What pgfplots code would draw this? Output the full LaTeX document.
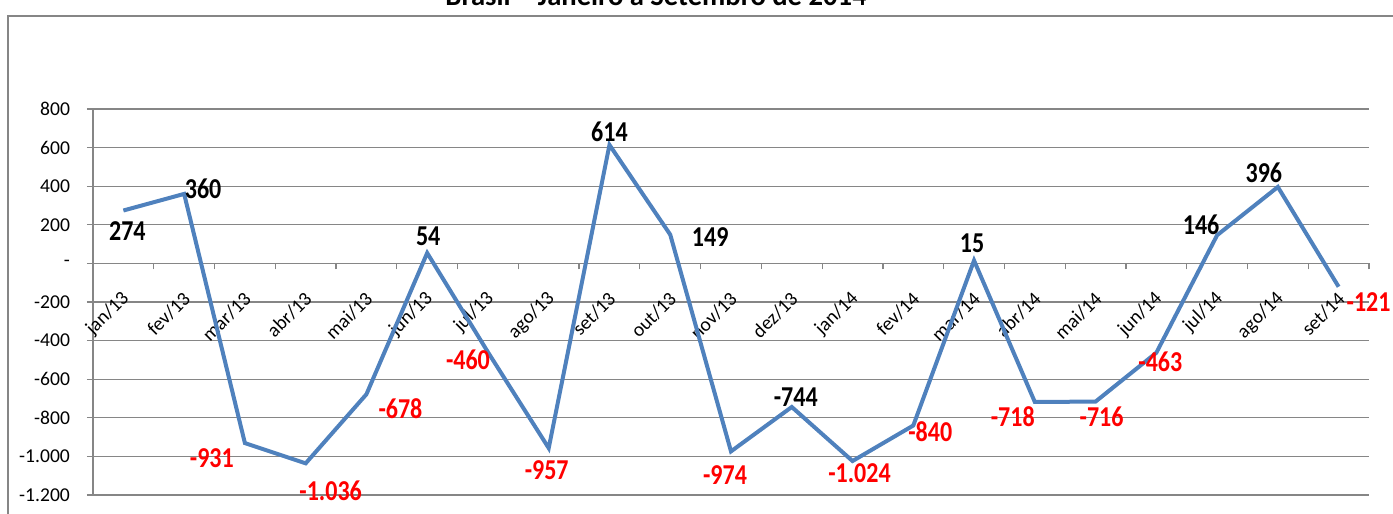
\documentclass[border=0pt]{standalone}
\usepackage{fontspec}
\setmainfont{Carlito}
\usepackage{pgfplots}
\pgfplotsset{compat=1.18}
\usepackage{pgfplotstable}

\definecolor{linecol}{RGB}{79,129,189}
\definecolor{gridcol}{RGB}{134,134,134}
\newcommand\tickfont{\fontsize{9.8}{11}\selectfont}
\newcommand\labfont{\bfseries\fontsize{12}{14}\selectfont}

\pgfplotstableread{
x y
0 274
1 360
2 -931
3 -1036
4 -678
5 54
6 -460
7 -957
8 614
9 149
10 -974
11 -744
12 -1024
13 -840
14 15
15 -718
16 -716
17 -463
18 146
19 396
20 -121
}\maindata

\pgfplotstableread{
x y lab dx dy
0 274 274 2 -10.25
1 360 360 9.5 2.5
5 54 54 0.5 8.5
8 614 614 0 6.5
9 149 149 20 -1
11 -744 -744 2 5
14 15 15 -1 8.5
18 146 146 -8 5
19 396 396 -7 7
}\posdata

\pgfplotstableread{
x y lab dx dy
2 -931 -931 -16.5 -7.5
3 -1036 -1.036 12.5 -13.5
4 -678 -678 17 -7
6 -460 -460 -10 -4
7 -957 -957 -1 -11
10 -974 -974 -3 -12
12 -1024 -1.024 3.5 -6
13 -840 -840 8.5 -3.25
15 -718 -718 -11 -7.5
16 -716 -716 3 -7.5
17 -463 -463 2 -4.5
20 -121 -121 15 -7.5
}\negdata

\begin{document}
\begin{tikzpicture}
\useasboundingbox (0,0) rectangle (696.5pt,257pt);
\clip (0,0) rectangle (696.5pt,257pt);
\draw[gridcol, line width=1pt] (4pt,-20pt) rectangle (720pt,249pt);
\node[anchor=base, font=\bfseries\fontsize{14.3}{17}\selectfont] at (328pt,254.3pt) {Brasil – Janeiro a Setembro de 2014};
\begin{axis}[
  at={(46.5pt,9.5pt)}, anchor=south west,
  scale only axis, width=638pt, height=193pt,
  xmin=-0.5, xmax=20.5, ymin=-1200, ymax=800,
  axis x line=middle, axis y line=left,
  x axis line style={-, draw=gridcol, line width=0.6pt},
  y axis line style={-, draw=gridcol, line width=0.6pt},
  xtick={0,...,20},
  xticklabels={jan/13,fev/13,mar/13,abr/13,mai/13,jun/13,jul/13,ago/13,set/13,out/13,nov/13,dez/13,jan/14,fev/14,mar/14,abr/14,mai/14,jun/14,jul/14,ago/14,set/14},
  major x tick style={draw=none},
  minor xtick={-0.5,0.5,...,20.5},
  minor x tick style={draw=gridcol, line width=0.6pt},
  ytick={-1200,-1000,...,800},
  yticklabels={-1.200,-1.000,-800,-600,-400,-200,-,200,400,600,800},
  y tick style={draw=gridcol, line width=0.6pt},
  ymajorgrids, grid style={draw=gridcol, line width=0.6pt},
  tick align=outside,
  major tick length=3pt, minor tick length=3pt,
  tick label style={font=\tickfont},
  xticklabel style={yshift=-13pt, xshift=1.5pt, rotate=45, anchor=east, inner sep=0pt},
  yticklabel style={xshift=-5pt},
  clip=false,
]
\addplot[linecol, line width=2pt, mark=none] table[x=x,y=y] {\maindata};
\addplot[draw=none, mark=none, point meta=explicit symbolic, nodes near coords,
  visualization depends on={\thisrow{dx}\as\dx},
  visualization depends on={\thisrow{dy}\as\dy},
  every node near coord/.append style={anchor=center, xshift=\dx pt, yshift=\dy pt, yscale=1.2, font=\labfont, text=black, inner sep=0pt},
] table[x=x, y=y, meta=lab] {\posdata};
\addplot[draw=none, mark=none, point meta=explicit symbolic, nodes near coords,
  visualization depends on={\thisrow{dx}\as\dx},
  visualization depends on={\thisrow{dy}\as\dy},
  every node near coord/.append style={anchor=center, xshift=\dx pt, yshift=\dy pt, yscale=1.2, font=\labfont, text=red, inner sep=0pt},
] table[x=x, y=y, meta=lab] {\negdata};
\end{axis}
\end{tikzpicture}
\end{document}
